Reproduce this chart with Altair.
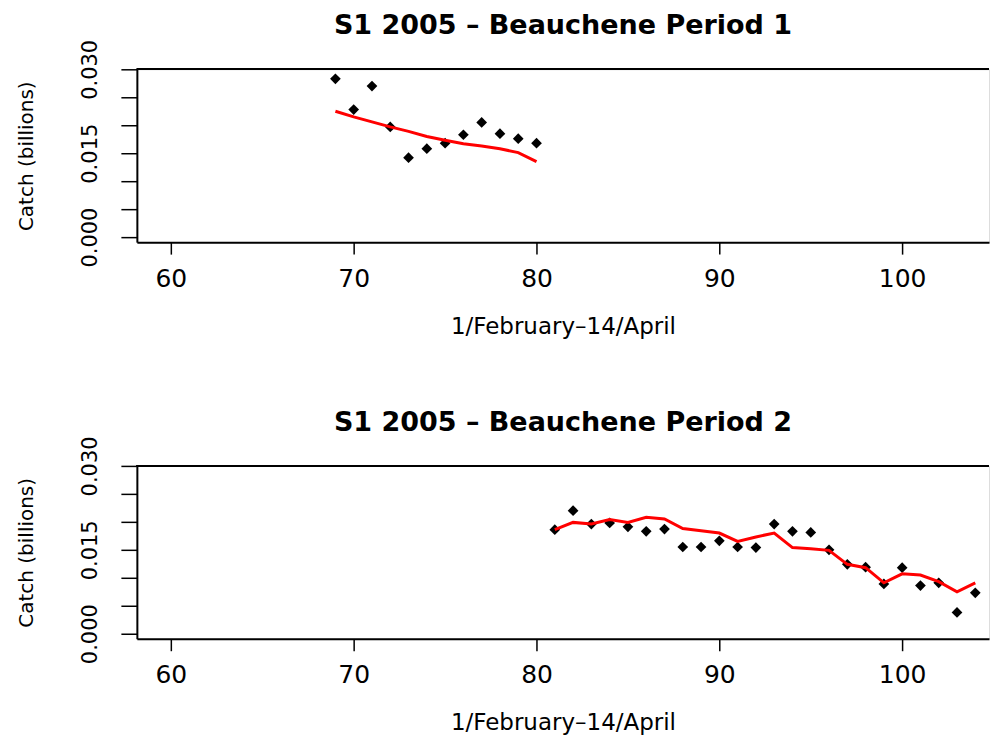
import altair as alt
import pandas as pd

days1 = list(range(69, 81))
catch1 = [0.0283, 0.0228, 0.0270, 0.0197, 0.0142, 0.0158, 0.0168, 0.0183, 0.0205, 0.0185, 0.0176, 0.0168]
fit1 = [0.0225, 0.0215, 0.0206, 0.0197, 0.0189, 0.0180, 0.0173, 0.0167, 0.0163, 0.0158, 0.0151, 0.0135]

days2 = list(range(81, 105))
catch2 = [0.0186, 0.0220, 0.0196, 0.0198, 0.0191, 0.0183, 0.0187, 0.0155, 0.0155, 0.0166,
          0.0155, 0.0154, 0.0196, 0.0183, 0.0181, 0.0150, 0.0124, 0.0119, 0.0089, 0.0118,
          0.0086, 0.0091, 0.0038, 0.0073]
fit2 = [0.0186, 0.0199, 0.0196, 0.0204, 0.0199, 0.0208, 0.0205, 0.0188, 0.0184, 0.0180,
        0.0165, 0.0173, 0.0180, 0.0154, 0.0152, 0.0149, 0.0124, 0.0118, 0.0091, 0.0107,
        0.0105, 0.0093, 0.0075, 0.0091]

x_ticks = [60, 70, 80, 90, 100]
y_ticks = [0.0, 0.005, 0.010, 0.015, 0.020, 0.025, 0.030]
titles = ["S1 2005 \u2013 Beauchene Period 1", "S1 2005 \u2013 Beauchene Period 2"]
x_title = "1/February\u201314/April"
y_title = "Catch (billions)"

FONT = "DejaVu Sans"
W, H = 853, 173


def x_enc():
    return alt.X("day:Q",
                 scale=alt.Scale(domain=[58.14, 104.75], nice=False, zero=False),
                 axis=alt.Axis(values=x_ticks, title=x_title, grid=False,
                               tickSize=12, labelPadding=12, labelFontSize=25,
                               titleFontSize=23, titlePadding=24, titleFontWeight="normal",
                               domainWidth=2, tickWidth=1.5, labelFont=FONT, titleFont=FONT,
                               labelColor="black", titleColor="black",
                               domainColor="black", tickColor="black", labelFlush=False))


def y_enc(field):
    return alt.Y(field + ":Q",
                 scale=alt.Scale(domain=[-0.0009, 0.030], nice=False, zero=False),
                 axis=alt.Axis(values=y_ticks, title=y_title, grid=False,
                               labelExpr="(round(datum.value*1000) % 15 == 0) ? format(datum.value, '.3f') : ''",
                               tickSize=16, labelPadding=20, labelFontSize=21,
                               labelAngle=270, labelAlign="center", labelBaseline="bottom",
                               titleFontSize=20, titlePadding=43, titleFontWeight="normal",
                               domainWidth=2, tickWidth=1.5, labelFont=FONT, titleFont=FONT,
                               labelColor="black", titleColor="black",
                               domainColor="black", tickColor="black", labelFlush=False))


def panel(days, catch, fit, title):
    df = pd.DataFrame({"day": days, "catch": catch, "fit": fit})
    pts = alt.Chart(df).mark_point(shape="diamond", filled=True, color="black",
                                   size=115, opacity=1).encode(x=x_enc(), y=y_enc("catch"))
    line = alt.Chart(df).mark_line(color="#ff0000", strokeWidth=3).encode(
        x=x_enc(), y=y_enc("fit"))
    top = alt.Chart(df).mark_rule(color="black", strokeWidth=1.5).encode(
        x=alt.value(0), x2=alt.value(W), y=alt.value(0))
    return alt.layer(pts, line, top).properties(
        width=W, height=H,
        title=alt.TitleParams(title, font=FONT, fontSize=27, fontWeight="bold",
                              color="black", offset=-1, anchor="middle"))


chart = alt.vconcat(
    panel(days1, catch1, fit1, titles[0]),
    panel(days2, catch2, fit2, titles[1]),
    spacing=69,
).properties(
    padding={"left": 8, "top": 3, "right": 0, "bottom": 0}
).configure_view(stroke=None).configure(background="white")

chart.save("out.html", embed_options={"renderer": "svg", "actions": False})
